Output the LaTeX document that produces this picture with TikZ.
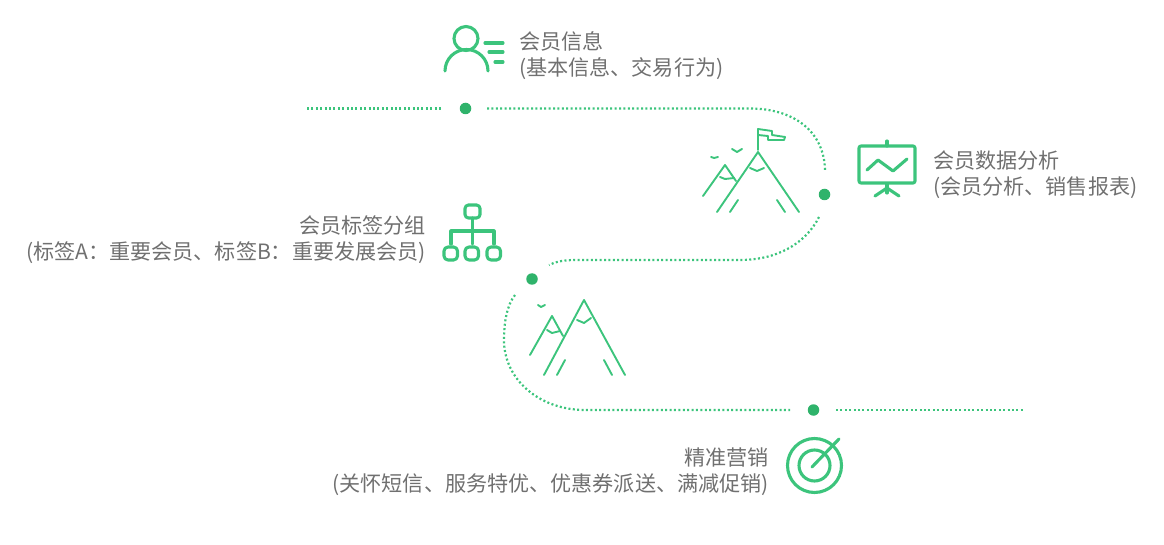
\documentclass[tikz,border=0pt]{standalone}
\usepackage{fontspec}
\setmainfont{Noto Sans CJK SC}
\usepackage{xcolor}
\definecolor{leaf}{HTML}{3CC47C}
\definecolor{stop}{HTML}{2FB36B}
\definecolor{words}{HTML}{707070}
\tikzset{
    track/.style={leaf, line width=2.2pt, dash pattern=on 2pt off 2.4pt},
    stopdot/.style={circle, fill=stop, inner sep=0pt, minimum size=11.5pt},
    icon/.style={leaf, line width=3.1pt, line cap=round, line join=round},
    hill/.style={leaf, line width=1.9pt, line cap=round, line join=round},
    caption/.style={inner sep=0pt, font=\fontsize{21.1}{26}\selectfont, text=words}
}
\begin{document}
\begin{tikzpicture}[x=1pt, y=-1pt]
    \useasboundingbox (0,0) rectangle (1164,545);
    % Stops on the road
    \node[stopdot] (stopa) at (465.5,108.5) {};
    \node[stopdot] (stopb) at (824.5,194.5) {};
    \node[stopdot] (stopc) at (532,279) {};
    \node[stopdot] (stopd) at (813.5,410) {};
    \coordinate (starta) at (307,108.5);
    \coordinate (enda) at (441,108.5);
    \coordinate (startb) at (487,108.5);
    \coordinate (endb) at (825,172);
    \coordinate (startc) at (819,217);
    \coordinate (endc) at (549,265);
    \coordinate (startd) at (515,295);
    \coordinate (endd) at (790,410);
    \coordinate (starte) at (836,410);
    \coordinate (ende) at (1023,410);
    % Dotted road
    \draw[track] (starta) -- (enda);
    \draw[track] (startb) -- (750,108.5) .. controls (792,108.5) and (825,130) .. (endb);
    \draw[track] (startc) .. controls (805,245) and (775,260) .. (740,260) -- (575,260) .. controls (563,260) and (555,262) .. (endc);
    \draw[track] (startd) .. controls (507,305) and (504,322) .. (504,340) .. controls (504,380) and (540,410) .. (585,410) -- (endd);
    \draw[track] (starte) -- (ende);
    % Member icon
    \draw[icon] (466,38.5) circle (12);
    \draw[icon] (445,71) arc (180:360:21.5);
    \foreach \xa/\ya in {485/43, 489/52, 495/62} {
        \draw[icon] (\xa,\ya) -- (503,\ya);
    }
    % Screen icon
    \draw[icon, rounded corners=2pt] (859,146) rectangle (915,183);
    \draw[icon] (887,141) -- (887,146);
    \draw[icon] (867,170) -- (878,160) -- (893,171) -- (907,159);
    \draw[icon] (887,184) -- (887,193);
    \draw[icon] (875,196) -- (887,188) -- (899,196);
    % Tree icon
    \draw[icon, rounded corners=3.5pt] (465,205) rectangle (480,218);
    \draw[icon] (472.5,218) -- (472.5,244);
    \draw[icon] (451,244) -- (451,231) -- (494,231) -- (494,244);
    \foreach \x in {444,465,487} {
        \draw[icon, rounded corners=4pt] (\x,247) rectangle ++(13.5,13);
    }
    % Target icon
    \draw[icon] (814.5,465.5) circle (27);
    \draw[icon] (814.5,465.5) circle (15.5);
    \draw[icon] (812,467) -- (839,439);
    % Hills with flag
    \draw[hill] (717,212) -- (758,152) -- (799,212);
    \draw[hill] (703,196) -- (725,165) -- (736,181);
    \draw[hill] (730,212) -- (738,200);
    \draw[hill] (777,200) -- (785,212);
    \draw[hill] (750,168) -- (757,171) -- (764,168);
    \draw[hill] (720,177) -- (725,179) -- (734,178);
    \draw[hill] (758,150) -- (758,129) -- (772,131) -- (772,135) -- (785,137) -- (784,140) -- (768,140) -- (768,136) -- (758,135);
    \draw[hill] (732,149) -- (737,152) -- (742,149);
    \draw[hill] (711,157) -- (714,158) -- (718,157);
    % Hills below
    \draw[hill] (544,375) -- (584,300) -- (625,375);
    \draw[hill] (530,355) -- (552,316) -- (563,336);
    \draw[hill] (557,375) -- (565,360);
    \draw[hill] (604,360) -- (612,375);
    \draw[hill] (577,320) -- (584,323) -- (591,318);
    \draw[hill] (547,330) -- (552,333) -- (560,331);
    \draw[hill] (538,305) -- (541,307) -- (545,305);
    % Captions
    \node[caption, anchor=north west, align=left] (memberinfo) at (519,31.5) {会员信息\\(基本信息、交易行为)};
    \node[caption, anchor=north west, align=left] (memberdata) at (933,151) {会员数据分析\\(会员分析、销售报表)};
    \node[caption, anchor=north east, align=right] (membertag) at (426,215) {会员标签分组\\(标签A：重要会员、标签B：重要发展会员)};
    \node[caption, anchor=north east, align=right] (marketing) at (769,448) {精准营销\\(关怀短信、服务特优、优惠券派送、满减促销)};
\end{tikzpicture}
\end{document}
